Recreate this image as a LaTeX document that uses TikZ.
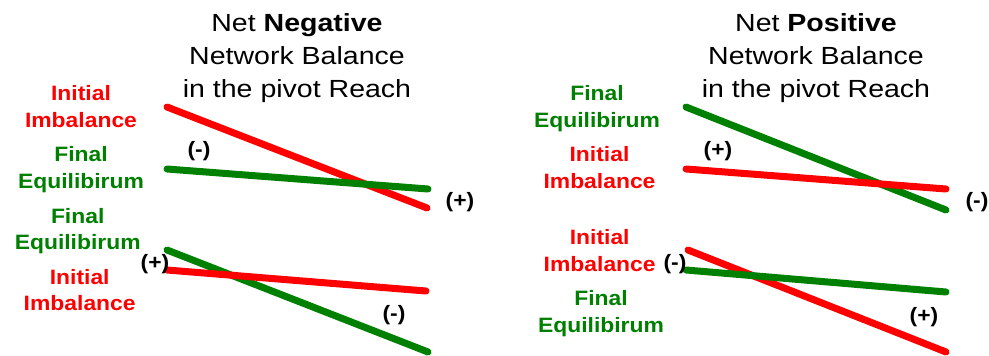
\documentclass[tikz,border=0pt]{standalone}
\usepackage{fontspec}
\setmainfont{Liberation Sans}
\newfontfamily\titlefont[FakeStretch=1.15]{Liberation Sans}
\newfontfamily\lblfont[FakeStretch=1.1]{Liberation Sans}
\definecolor{myred}{RGB}{255,0,0}
\definecolor{mygreen}{RGB}{0,128,0}
\tikzset{
  title/.style={align=center,anchor=north,font=\titlefont\fontsize{24.8}{32.7}\selectfont,inner sep=0pt},
  lbl/.style={align=center,anchor=north,font=\lblfont\bfseries\fontsize{20.8}{26.7}\selectfont,inner sep=0pt},
  redlbl/.style={lbl,text=myred},
  greenlbl/.style={lbl,text=mygreen},
  sign/.style={font=\lblfont\bfseries\fontsize{20.8}{26.7}\selectfont,inner sep=0pt},
  redline/.style={draw=myred,line width=7pt,line cap=round},
  greenline/.style={draw=mygreen,line width=7pt,line cap=round}
}
\begin{document}
\begin{tikzpicture}[x=1pt,y=-1pt]
\useasboundingbox (0,0) rectangle (989,356);
% left panel
\node[title] (t1) at (297,13.5) {Net \textbf{Negative}\\Network Balance\\in the pivot Reach};
\node[redlbl] (l1) at (81,85.5) {Initial\\Imbalance};
\node[greenlbl] (l2) at (81,146.2) {Final\\Equilibirum};
\node[greenlbl] (l3) at (77.7,207.8) {Final\\Equilibirum};
\node[redlbl] (l4) at (79.7,268.8) {Initial\\Imbalance};
\coordinate (a1) at (167,107); \coordinate (a2) at (427,208);
\coordinate (b1) at (167,169); \coordinate (b2) at (428,189);
\coordinate (c1) at (167,250); \coordinate (c2) at (428,352);
\coordinate (d1) at (167,270); \coordinate (d2) at (426,291);
\draw[redline] (a1) -- (a2);
\draw[greenline] (b1) -- (b2);
\draw[greenline] (c1) -- (c2);
\draw[redline] (d1) -- (d2);
\node[sign] (s1) at (199,151) {(-)};
\node[sign] (s2) at (460,202) {(+)};
\node[sign] (s3) at (155,264) {(+)};
\node[sign] (s4) at (394,315) {(-)};
% right panel
\node[title] (t2) at (816,13.5) {Net \textbf{Positive}\\Network Balance\\in the pivot Reach};
\node[greenlbl] (r1) at (597,85.5) {Final\\Equilibirum};
\node[redlbl] (r2) at (599.5,146.2) {Initial\\Imbalance};
\node[redlbl] (r3) at (599.7,229.5) {Initial\\Imbalance};
\node[greenlbl] (r4) at (601,290.2) {Final\\Equilibirum};
\coordinate (e1) at (686,107); \coordinate (e2) at (946,210);
\coordinate (f1) at (686,169); \coordinate (f2) at (946,189);
\coordinate (g1) at (688,250); \coordinate (g2) at (946,352);
\coordinate (h1) at (686,270); \coordinate (h2) at (946,292);
\draw[greenline] (e1) -- (e2);
\draw[redline] (f1) -- (f2);
\draw[redline] (g1) -- (g2);
\draw[greenline] (h1) -- (h2);
\node[sign] (p1) at (718,151) {(+)};
\node[sign] (p2) at (977,202) {(-)};
\node[sign] (p3) at (675,264) {(-)};
\node[sign] (p4) at (924,317) {(+)};
\end{tikzpicture}
\end{document}
